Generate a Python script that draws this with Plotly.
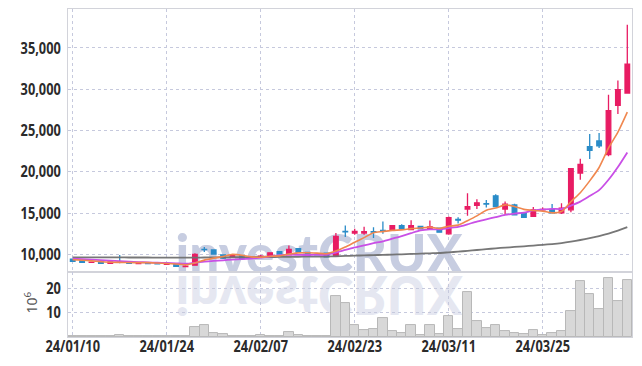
import plotly.graph_objects as go

# ---------------- data ----------------
dates = [
    "24/01/10", "24/01/11", "24/01/12", "24/01/15", "24/01/16", "24/01/17", "24/01/18", "24/01/19",
    "24/01/22", "24/01/23", "24/01/24", "24/01/25", "24/01/26", "24/01/29", "24/01/30", "24/01/31",
    "24/02/01", "24/02/02", "24/02/05", "24/02/06", "24/02/07", "24/02/08", "24/02/13", "24/02/14",
    "24/02/15", "24/02/16", "24/02/19", "24/02/20", "24/02/21", "24/02/22", "24/02/23", "24/02/26",
    "24/02/27", "24/02/28", "24/02/29", "24/03/04", "24/03/05", "24/03/06", "24/03/07", "24/03/08",
    "24/03/11", "24/03/12", "24/03/13", "24/03/14", "24/03/15", "24/03/18", "24/03/19", "24/03/20",
    "24/03/21", "24/03/22", "24/03/25", "24/03/26", "24/03/27", "24/03/28", "24/03/29", "24/04/01",
    "24/04/02", "24/04/03", "24/04/04", "24/04/05",
]
opens = [9440, 9240, 9050, 9150, 8920, 9110, 9050, 8900, 9000, 8960,
         8800, 8850, 8520, 8700, 10620, 10550, 9950, 9750, 9850, 9550,
         9750, 9880, 10350, 9950, 10700, 10250, 10000, 10150, 9800, 12800,
         12600, 12600, 12750, 12900, 12950, 13500, 13000, 13400, 13100, 13200,
         12500, 14250, 15500, 15950, 16150, 17100, 15500, 16000, 15000, 14600,
         15400, 15450, 15050, 15400, 19850, 23050, 23750, 22100, 28050, 29550]
highs = [9460, 9250, 9150, 9160, 9110, 9950, 9060, 9030, 9010, 8970,
         8880, 8860, 8680, 10150, 10900, 10580, 9960, 9950, 9860, 9750,
         9950, 10220, 10360, 11100, 10720, 10260, 10050, 10160, 12600, 13500,
         13100, 13350, 13300, 14000, 13520, 13650, 14150, 13420, 14100, 13220,
         14600, 14500, 17400, 16700, 16600, 17300, 16400, 16150, 15020, 15750,
         15700, 16100, 16200, 20450, 21600, 24600, 24700, 29350, 31050, 37800]
lows = [9150, 9030, 9030, 8910, 8900, 8950, 8920, 8880, 8890, 8840,
        8790, 8550, 8450, 8650, 10300, 10050, 9450, 9700, 9450, 9450,
        9700, 9870, 10040, 9900, 10290, 9890, 9900, 9690, 9750, 12100,
        12400, 12400, 12000, 12500, 12940, 13090, 12950, 13090, 13000, 12690,
        12400, 13750, 14700, 15500, 15700, 15750, 14850, 14750, 14480, 14550,
        15300, 15000, 14900, 15100, 19050, 21550, 22900, 21900, 27000, 29450]
closes = [9160, 9040, 9060, 8920, 9100, 9090, 8930, 9020, 8900, 8850,
          8870, 8560, 8580, 10000, 10580, 10050, 9550, 9850, 9500, 9600,
          9800, 10200, 10050, 10600, 10300, 9900, 9950, 9700, 12200, 12750,
          12800, 12750, 12700, 12850, 13500, 13100, 13500, 13100, 13350, 12700,
          14450, 14150, 15800, 16250, 16100, 15800, 16100, 14800, 14500, 15400,
          15450, 15050, 15600, 20400, 20900, 22600, 23150, 27400, 29950, 33050]
volumes = [0.2, 0.2, 0.2, 0.2, 0.2, 0.7, 0.2, 0.2, 0.2, 0.2,
           0.2, 0.2, 0.2, 4.2, 4.9, 1.5, 1.1, 0.4, 0.4, 0.4,
           0.7, 0.3, 0.3, 2.0, 0.8, 0.3, 0.3, 0.3, 16.8, 13.8,
           4.9, 2.9, 3.3, 7.7, 2.5, 1.5, 4.8, 0.7, 4.8, 1.1,
           8.5, 3.3, 18.3, 6.6, 3.7, 4.8, 2.5, 1.5, 1.1, 2.9,
           0.7, 1.5, 2.5, 10.7, 23.0, 17.6, 11.5, 24.1, 14.8, 23.4]
ma_short = [9380, 9300, 9220, 9130, 9056, 9042, 9020, 9012, 9008, 8958,
            8914, 8840, 8752, 8972, 9318, 9554, 9752, 10006, 9906, 9710,
            9660, 9790, 9830, 10050, 10190, 10210, 10160, 10090, 10410, 10900,
            11480, 12040, 12640, 12770, 12920, 12980, 13130, 13210, 13310, 13150,
            13420, 13550, 14090, 14670, 15350, 15620, 16010, 15810, 15460, 15320,
            15250, 15040, 15200, 16380, 17480, 18910, 20530, 22890, 24800, 27230]
ma_mid = [9480, 9420, 9370, 9310, 9250, 9190, 9130, 9080, 9040, 9007,
          8978, 8930, 8882, 8990, 9138, 9234, 9296, 9379, 9439, 9514,
          9607, 9771, 9918, 9978, 9950, 9935, 9975, 9960, 10230, 10545,
          10845, 11100, 11365, 11590, 11910, 12230, 12585, 12925, 13040, 13035,
          13200, 13340, 13650, 13990, 14250, 14520, 14780, 14950, 15065, 15335,
          15435, 15525, 15505, 15920, 16400, 17080, 17785, 19045, 20590, 22355]
ma_long = [9650, 9650, 9650, 9645, 9640, 9640, 9635, 9630, 9630, 9625,
           9620, 9615, 9610, 9620, 9635, 9645, 9650, 9660, 9665, 9670,
           9680, 9690, 9700, 9715, 9725, 9735, 9745, 9755, 9785, 9820,
           9855, 9890, 9920, 9950, 9985, 10020, 10060, 10100, 10140, 10180,
           10260, 10340, 10440, 10540, 10640, 10740, 10830, 10910, 10990, 11080,
           11170, 11260, 11380, 11550, 11750, 11980, 12230, 12520, 12880, 13300]
x_ticks = ["24/01/10", "24/01/24", "24/02/07", "24/02/23", "24/03/11", "24/03/25"]
price_ticks = [10000, 15000, 20000, 25000, 30000, 35000]
volume_ticks = [10, 20]
watermark_text = "investCRUX"

# ---------------- styles ----------------
PINK = "#e81c63"
BLUE = "#2a8cc8"
GRID = "#c6c9dd"
FRAME = "#d2d3da"
FAM = "Noto Sans, sans-serif"
TICKFONT = dict(family=FAM, size=16, color="#2b2b2b", weight="bold")

fig = go.Figure()

fig.add_trace(go.Candlestick(
    x=dates, open=opens, high=highs, low=lows, close=closes,
    increasing=dict(line=dict(color=PINK, width=1.3), fillcolor=PINK),
    decreasing=dict(line=dict(color=BLUE, width=1.3), fillcolor=BLUE),
    whiskerwidth=0, xaxis="x", yaxis="y", showlegend=False, hoverinfo="skip",
))
fig.add_trace(go.Scatter(x=dates, y=ma_long, mode="lines", xaxis="x", yaxis="y",
                         line=dict(color="rgba(112,112,112,0.95)", width=1.8, shape="spline", smoothing=0.6),
                         showlegend=False, hoverinfo="skip"))
fig.add_trace(go.Scatter(x=dates, y=ma_mid, mode="lines", xaxis="x", yaxis="y",
                         line=dict(color="#c94fe6", width=1.8, shape="spline", smoothing=0.6),
                         showlegend=False, hoverinfo="skip"))
fig.add_trace(go.Scatter(x=dates, y=ma_short, mode="lines", xaxis="x", yaxis="y",
                         line=dict(color="#f0874f", width=1.6, shape="spline", smoothing=0.6),
                         showlegend=False, hoverinfo="skip"))
fig.add_trace(go.Bar(x=dates, y=volumes, xaxis="x2", yaxis="y2",
                     marker=dict(color="#d8d8d8", line=dict(color="#b8b8b8", width=1)),
                     showlegend=False, hoverinfo="skip"))

common_x = dict(type="category", range=[-0.5, 59.5], autorange=False, categoryorder="array", categoryarray=dates,
                tickvals=x_ticks, showgrid=True, gridcolor=GRID, griddash="dot", gridwidth=1,
                showline=True, mirror=True, linecolor=FRAME, linewidth=1, ticks="", zeroline=False,
                automargin=False)

VOL_FRAC = 0.198
fig.update_layout(
    width=642, height=366,
    margin=dict(l=68, r=10, t=9, b=29, autoexpand=False),
    paper_bgcolor="white", plot_bgcolor="white",
    showlegend=False, bargap=0,
    xaxis=dict(common_x, anchor="y", showticklabels=False, rangeslider=dict(visible=False)),
    xaxis2=dict(common_x, anchor="y2", ticktext=x_ticks, tickfont=TICKFONT, ticklabelstandoff=-5),
    yaxis=dict(domain=[VOL_FRAC, 1], range=[7870, 39720], autorange=False, tickvals=price_ticks, tickformat=",",
               showgrid=True, gridcolor=GRID, griddash="dot", gridwidth=1, zeroline=False,
               showline=True, mirror=True, linecolor=FRAME, linewidth=1, ticks="",
               tickfont=TICKFONT, automargin=False, ticklabelstandoff=3),
    yaxis2=dict(domain=[0, VOL_FRAC], range=[0, 26.6], autorange=False, tickvals=volume_ticks,
                showgrid=True, gridcolor=GRID, griddash="dot", gridwidth=1, zeroline=False,
                showline=True, mirror=True, linecolor=FRAME, linewidth=1, ticks="",
                tickfont=TICKFONT, automargin=False, ticklabelstandoff=3),
    annotations=[dict(text="10<sup>6</sup>", xref="paper", yref="paper", x=-0.0655, y=0.105,
                      xanchor="center", yanchor="middle", textangle=-90, showarrow=False,
                      font=dict(family=FAM, size=14, color="#555"))],
    shapes=[
        dict(type="rect", xref="paper", yref="paper", x0=0.19, x1=0.70, y0=0.212, y1=0.312,
             line=dict(width=0), fillcolor="rgba(0,0,0,0)", layer="below",
             label=dict(text=watermark_text, textposition="middle center", padding=0,
                        font=dict(family="Lato, sans-serif", size=53, color="#c7cde1", weight=900))),
        dict(type="rect", xref="paper", yref="paper", x0=0.19, x1=0.70, y0=0.212, y1=0.312,
             line=dict(width=0), fillcolor="rgba(0,0,0,0)", layer="below",
             label=dict(text=watermark_text, textposition="middle center", padding=0,
                        font=dict(family="Lato, sans-serif", size=53, color="#e5e7f1", weight=900))),
    ],
)

post = """
document.body.style.margin = '0';
var gd = document.getElementById('{plot_id}');
var ts = Array.prototype.filter.call(gd.querySelectorAll('text'), function(t){ return t.textContent === 'investCRUX'; });
if (ts.length > 1) {
  var base = ts[0].getStartPositionOfChar(0).y;
  var L = base + 1.7;
  ts[1].setAttribute('transform', 'translate(0,' + (2 * L) + ') scale(1,-1)');
}
Array.prototype.forEach.call(gd.querySelectorAll('g[class$="tick"] text'), function(t){
  var bb = t.getBBox();
  var anchor = t.getAttribute('text-anchor') || window.getComputedStyle(t).textAnchor;
  var ax = anchor === 'end' ? bb.x + bb.width : (anchor === 'start' ? bb.x : bb.x + bb.width / 2);
  var old = t.getAttribute('transform') || '';
  t.setAttribute('transform', old + ' translate(' + ax + ',0) scale(0.8,1) translate(' + (-ax) + ',0)');
});
"""
fig.write_html("out.html", post_script=post, config={"displayModeBar": False})
